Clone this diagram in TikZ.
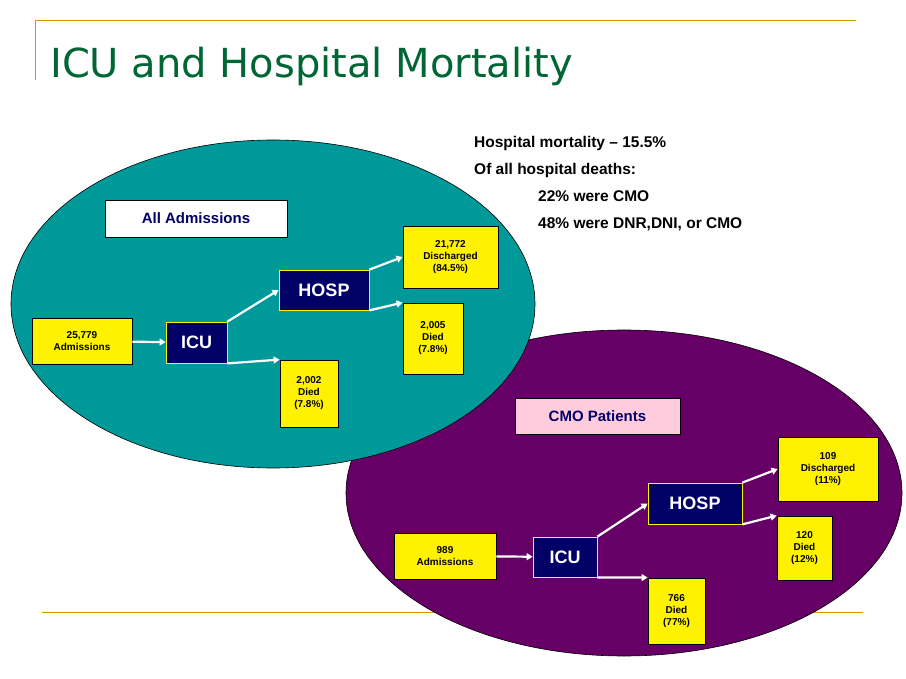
\documentclass[tikz,border=0pt]{standalone}
\usepackage{fontspec}
\setmainfont{Liberation Sans}
\newfontfamily\titlefont{DejaVu Sans}
\usetikzlibrary{arrows.meta}
\definecolor{ttl}{RGB}{0,102,51}
\definecolor{gold}{RGB}{204,153,0}
\definecolor{teal1}{RGB}{0,153,153}
\definecolor{purp}{RGB}{102,0,102}
\definecolor{navy}{RGB}{0,0,102}
\definecolor{pinkb}{RGB}{255,204,221}
\begin{document}
\begin{tikzpicture}[x=1pt,y=-1pt,
 ybox/.style={draw=black,fill=yellow,font=\fontsize{10}{12}\selectfont\bfseries,align=center,inner sep=0pt,line width=0.8pt},
 nbox/.style={draw=yellow,fill=navy,text=white,font=\fontsize{18}{20}\selectfont\bfseries,inner sep=0pt,line width=0.8pt},
 arr/.style={draw=white,line width=2.2pt,-{Triangle[length=6pt,width=7pt]}},
 lbl/.style={draw=black,font=\fontsize{15}{17}\selectfont\bfseries,text=navy,inner sep=0pt,line width=0.6pt}]
\useasboundingbox (0,0) rectangle (906,679);
\fill[white] (0,0) rectangle (906,679);
\draw[gold,line width=0.8pt] (35,80) -- (35,20) -- (856,20);
\draw[gold,line width=0.8pt] (42,612) -- (863,612);
\node[anchor=base west,text=ttl,font=\titlefont\fontsize{40}{44}\selectfont,inner sep=0] (title) at (50,78) {ICU and Hospital Mortality};
\draw[fill=purp,line width=0.6pt] (624,493) ellipse [x radius=278,y radius=163];
\draw[fill=teal1,line width=0.6pt] (273,304) ellipse [x radius=262,y radius=164];
\node[anchor=base west,font=\fontsize{15.5}{18}\selectfont\bfseries,inner sep=0] (t1) at (474,148) {Hospital mortality – 15.5\%};
\node[anchor=base west,font=\fontsize{15.5}{18}\selectfont\bfseries,inner sep=0] (t2) at (474,175) {Of all hospital deaths:};
\node[anchor=base west,font=\fontsize{15.5}{18}\selectfont\bfseries,inner sep=0] (t3) at (538,202) {22\% were CMO};
\node[anchor=base west,font=\fontsize{15.5}{18}\selectfont\bfseries,inner sep=0] (t4) at (538,229) {48\% were DNR,DNI, or CMO};
% top
\node[lbl,fill=white,minimum width=182,minimum height=37] (all) at (196,218.5) {All Admissions};
\node[ybox,minimum width=100,minimum height=46] (a1) at (82,341) {25,779\\Admissions};
\node[nbox,minimum width=61,minimum height=41] (icu1) at (196.5,342.5) {ICU};
\node[nbox,minimum width=90,minimum height=40] (h1) at (324,290) {HOSP};
\node[ybox,minimum width=95,minimum height=62] (d1) at (450.5,257) {21,772\\Discharged\\(84.5\%)};
\node[ybox,minimum width=60,minimum height=71] (x1) at (433,338.5) {2,005\\Died\\(7.8\%)};
\node[ybox,minimum width=58,minimum height=67] (y1) at (309,393.5) {2,002\\Died\\(7.8\%)};
\draw[arr] (a1) -- (icu1);
\draw[arr] (icu1.north east) -- (h1.west);
\draw[arr] (icu1.south east) -- (y1.north west);
\draw[arr] (h1.north east) -- (d1.west);
\draw[arr] (h1.south east) -- (x1.north west);
% bottom
\node[lbl,fill=pinkb,minimum width=165,minimum height=36] (cmo) at (597.5,416) {CMO Patients};
\node[ybox,minimum width=102,minimum height=46] (a2) at (445,556) {989\\Admissions};
\node[nbox,minimum width=64,minimum height=40] (icu2) at (565,557) {ICU};
\node[nbox,minimum width=94,minimum height=41] (h2) at (695,503.5) {HOSP};
\node[ybox,minimum width=100,minimum height=64] (d2) at (828,469) {109\\Discharged\\(11\%)};
\node[ybox,minimum width=55,minimum height=64] (x2) at (804.5,548) {120\\Died\\(12\%)};
\node[ybox,minimum width=57,minimum height=66] (y2) at (676.5,611) {766\\Died\\(77\%)};
\draw[arr] (a2) -- (icu2);
\draw[arr] (icu2.north east) -- (h2.west);
\draw[arr] (icu2.south east) -- (y2.north west);
\draw[arr] (h2.north east) -- (d2.west);
\draw[arr] (h2.south east) -- (x2.north west);
\end{tikzpicture}
\end{document}
